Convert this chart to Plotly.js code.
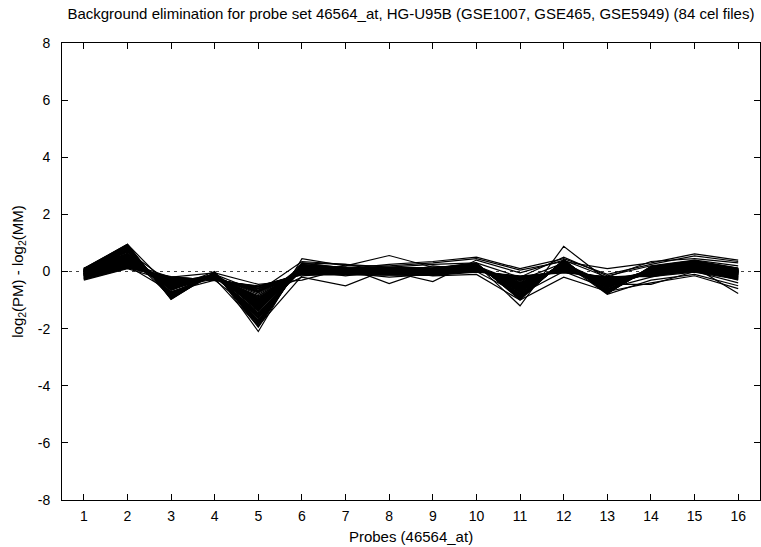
<!DOCTYPE html>
<html>
<head>
<meta charset="utf-8">
<script src="https://cdn.plot.ly/plotly-3.0.1.min.js"></script>
<style>
  html, body { margin: 0; padding: 0; background: #fff; }
  #chart { width: 761px; height: 547px; }
</style>
</head>
<body>
<div id="chart"></div>
<script>
// Probe indices within probe set 46564_at
const probes = [1, 2, 3, 4, 5, 6, 7, 8, 9, 10, 11, 12, 13, 14, 15, 16];

// Per-array profiles of log2(PM) - log2(MM), one row per cel file, one column per probe
const celProfiles = [
  [-0.05,0.48,-0.52,-0.14,-1.12,0.08,0.04,0.06,0.02,0.16,-0.58,0.22,-0.46,0.02,0.18,-0.04],
  [-0.10,0.42,-0.48,-0.18,-1.05,0.12,0.06,0.02,0.05,0.12,-0.52,0.18,-0.42,-0.03,0.22,0.02],
  [0.00,0.55,-0.60,-0.12,-1.25,0.05,0.00,0.08,0.00,0.20,-0.65,0.25,-0.52,0.05,0.15,-0.10],
  [-0.08,0.50,-0.45,-0.20,-1.18,0.15,0.08,0.10,0.08,0.18,-0.60,0.28,-0.40,0.00,0.25,0.05],
  [-0.12,0.38,-0.55,-0.16,-1.00,0.02,-0.02,0.00,-0.04,0.10,-0.48,0.15,-0.50,-0.05,0.12,-0.12],
  [0.02,0.60,-0.65,-0.10,-1.30,0.10,0.05,0.12,0.06,0.22,-0.70,0.30,-0.55,0.08,0.20,0.00],
  [-0.06,0.45,-0.50,-0.22,-1.15,0.18,0.10,0.04,0.10,0.14,-0.55,0.20,-0.44,0.04,0.28,0.08],
  [-0.15,0.35,-0.42,-0.15,-0.95,0.06,0.02,-0.04,0.00,0.08,-0.45,0.12,-0.38,-0.08,0.10,-0.15],
  [0.05,0.62,-0.58,-0.08,-1.35,0.12,0.08,0.14,0.12,0.24,-0.72,0.32,-0.58,0.10,0.30,0.10],
  [-0.04,0.52,-0.54,-0.18,-1.20,0.08,0.03,0.06,0.04,0.15,-0.62,0.24,-0.48,0.01,0.16,-0.06],
  [-0.09,0.44,-0.47,-0.13,-1.08,0.14,0.07,0.09,0.07,0.17,-0.57,0.21,-0.43,0.03,0.23,0.03],
  [-0.02,0.58,-0.62,-0.11,-1.28,0.04,-0.01,0.03,-0.02,0.13,-0.68,0.26,-0.53,-0.02,0.14,-0.08],
  [-0.11,0.40,-0.44,-0.19,-1.02,0.16,0.09,0.07,0.09,0.19,-0.50,0.17,-0.41,0.06,0.26,0.06],
  [0.01,0.54,-0.57,-0.09,-1.22,0.09,0.04,0.11,0.03,0.21,-0.64,0.29,-0.51,0.07,0.19,-0.02],
  [-0.07,0.47,-0.51,-0.17,-1.14,0.07,0.01,0.05,0.01,0.11,-0.59,0.19,-0.47,-0.01,0.17,-0.05],
  [-0.13,0.36,-0.40,-0.21,-0.98,0.11,0.06,0.01,0.06,0.09,-0.47,0.14,-0.39,-0.04,0.13,-0.09],
  [0.03,0.64,-0.66,-0.07,-1.38,0.13,0.09,0.13,0.11,0.25,-0.74,0.33,-0.57,0.09,0.27,0.07],
  [-0.05,0.49,-0.53,-0.15,-1.17,0.06,0.02,0.04,0.03,0.16,-0.61,0.23,-0.45,0.02,0.21,-0.01],
  [-0.08,0.43,-0.49,-0.14,-1.10,0.10,0.05,0.08,0.05,0.14,-0.56,0.20,-0.46,0.00,0.18,-0.03],
  [-0.03,0.51,-0.56,-0.16,-1.19,0.09,0.03,0.07,0.04,0.18,-0.63,0.25,-0.49,0.03,0.20,-0.04],
  [-0.10,0.46,-0.46,-0.12,-1.06,0.13,0.07,0.03,0.08,0.12,-0.54,0.18,-0.42,0.05,0.24,0.04],
  [0.00,0.57,-0.59,-0.18,-1.26,0.07,0.02,0.09,0.02,0.19,-0.66,0.27,-0.54,-0.03,0.15,-0.07],
  [-0.06,0.41,-0.52,-0.20,-1.13,0.15,0.08,0.05,0.07,0.15,-0.58,0.21,-0.44,0.04,0.22,0.01],
  [-0.12,0.39,-0.43,-0.13,-1.03,0.05,0.00,0.02,-0.01,0.10,-0.51,0.16,-0.40,-0.06,0.11,-0.11],
  [0.04,0.59,-0.63,-0.10,-1.32,0.11,0.06,0.12,0.09,0.23,-0.69,0.30,-0.56,0.08,0.25,0.06],
  [-0.07,0.50,-0.50,-0.17,-1.16,0.08,0.04,0.06,0.05,0.16,-0.60,0.22,-0.47,0.01,0.19,-0.02],
  [-0.04,0.53,-0.55,-0.11,-1.21,0.10,0.05,0.08,0.06,0.17,-0.62,0.24,-0.50,0.02,0.20,0.00],
  [-0.09,0.45,-0.48,-0.19,-1.09,0.12,0.06,0.04,0.04,0.13,-0.55,0.19,-0.43,-0.02,0.17,-0.06],
  [-0.01,0.56,-0.61,-0.14,-1.27,0.06,0.01,0.10,0.03,0.20,-0.67,0.28,-0.52,0.06,0.23,0.03],
  [-0.14,0.37,-0.41,-0.16,-0.97,0.14,0.09,0.00,0.08,0.11,-0.46,0.13,-0.37,-0.07,0.14,-0.13],
  [0.02,0.61,-0.64,-0.09,-1.34,0.09,0.04,0.11,0.07,0.22,-0.71,0.31,-0.55,0.07,0.26,0.05],
  [-0.06,0.48,-0.53,-0.15,-1.14,0.11,0.03,0.07,0.02,0.15,-0.59,0.23,-0.48,0.00,0.18,-0.03],
  [-0.08,0.44,-0.50,-0.18,-1.11,0.08,0.05,0.03,0.06,0.14,-0.57,0.20,-0.45,0.03,0.21,0.02],
  [-0.03,0.52,-0.57,-0.12,-1.23,0.12,0.07,0.09,0.05,0.18,-0.64,0.26,-0.50,0.04,0.16,-0.05],
  [-0.11,0.42,-0.45,-0.17,-1.04,0.07,0.02,0.01,0.01,0.12,-0.53,0.17,-0.41,-0.04,0.15,-0.08],
  [0.01,0.55,-0.60,-0.13,-1.29,0.10,0.06,0.10,0.08,0.21,-0.66,0.27,-0.53,0.06,0.24,0.04],
  [-0.05,0.47,-0.51,-0.16,-1.13,0.09,0.04,0.05,0.04,0.16,-0.58,0.22,-0.46,0.01,0.19,-0.01],
  [-0.09,0.43,-0.47,-0.14,-1.07,0.13,0.08,0.06,0.07,0.13,-0.56,0.19,-0.44,0.02,0.22,0.00],
  [-0.02,0.54,-0.58,-0.19,-1.24,0.06,0.01,0.08,0.03,0.19,-0.65,0.25,-0.51,-0.01,0.17,-0.06],
  [-0.07,0.49,-0.52,-0.15,-1.16,0.10,0.05,0.04,0.05,0.15,-0.60,0.21,-0.47,0.02,0.20,-0.02],
  [0.05,0.85,-0.88,-0.10,-1.70,0.20,0.08,0.10,0.05,0.25,-0.90,0.35,-0.70,0.12,0.30,0.05],
  [0.08,0.92,-0.95,-0.05,-1.85,0.25,0.10,0.12,0.10,0.28,-0.95,0.40,-0.75,0.15,0.35,0.10],
  [0.02,0.78,-0.82,-0.12,-1.60,0.15,0.05,0.08,0.02,0.22,-0.85,0.32,-0.68,0.10,0.28,0.00],
  [0.10,0.95,-0.98,-0.02,-1.95,0.30,0.12,0.15,0.12,0.30,-1.00,0.42,-0.78,0.18,0.38,0.12],
  [0.04,0.82,-0.86,-0.08,-1.65,0.18,0.06,0.09,0.06,0.24,-0.88,0.36,-0.72,0.11,0.32,0.04],
  [0.06,0.88,-0.90,-0.06,-1.78,0.22,0.09,0.11,0.08,0.26,-0.92,0.38,-0.74,0.14,0.33,0.08],
  [0.00,0.75,-0.78,-0.14,-1.55,0.12,0.04,0.06,0.00,0.20,-0.82,0.30,-0.66,0.08,0.26,-0.02],
  [0.07,0.90,-0.93,-0.04,-1.82,0.24,0.11,0.13,0.09,0.27,-0.96,0.39,-0.76,0.16,0.36,0.09],
  [0.03,0.80,-0.84,-0.11,-1.62,0.16,0.07,0.07,0.04,0.23,-0.86,0.34,-0.69,0.09,0.29,0.02],
  [0.09,0.93,-0.96,-0.03,-1.90,0.28,0.13,0.14,0.11,0.29,-0.98,0.41,-0.77,0.17,0.37,0.11],
  [0.01,0.72,-0.76,-0.13,-1.50,0.14,0.03,0.05,0.01,0.21,-0.80,0.31,-0.64,0.07,0.27,-0.01],
  [0.05,0.86,-0.89,-0.07,-1.74,0.21,0.08,0.10,0.07,0.25,-0.91,0.37,-0.71,0.13,0.31,0.06],
  [-0.02,0.70,-0.74,-0.15,-1.48,0.11,0.02,0.04,-0.01,0.19,-0.78,0.29,-0.63,0.06,0.25,-0.03],
  [0.06,0.84,-0.87,-0.09,-1.72,0.19,0.07,0.11,0.06,0.24,-0.89,0.36,-0.73,0.12,0.34,0.07],
  [0.03,0.76,-0.80,-0.11,-1.58,0.17,0.05,0.08,0.03,0.22,-0.84,0.33,-0.67,0.10,0.28,0.01],
  [0.08,0.89,-0.92,-0.05,-1.80,0.23,0.10,0.12,0.09,0.27,-0.94,0.39,-0.75,0.15,0.35,0.09],
  [0.02,0.68,-0.72,-0.12,-1.45,0.13,0.04,0.06,0.02,0.20,-0.77,0.30,-0.62,0.08,0.26,0.00],
  [0.04,0.74,-0.79,-0.10,-1.52,0.15,0.06,0.07,0.05,0.21,-0.81,0.32,-0.65,0.09,0.29,0.03],
  [-0.20,0.20,-0.25,-0.25,-0.60,-0.05,-0.05,-0.08,-0.08,0.05,-0.25,0.05,-0.25,-0.10,0.05,-0.20],
  [-0.25,0.15,-0.22,-0.28,-0.55,-0.10,-0.08,-0.12,-0.10,0.02,-0.20,0.00,-0.22,-0.15,0.02,-0.25],
  [-0.18,0.25,-0.30,-0.22,-0.70,0.00,-0.02,-0.05,-0.05,0.06,-0.30,0.08,-0.28,-0.08,0.08,-0.18],
  [-0.22,0.18,-0.20,-0.30,-0.52,-0.08,-0.10,-0.10,-0.12,0.00,-0.18,-0.02,-0.20,-0.12,0.00,-0.22],
  [-0.15,0.28,-0.35,-0.20,-0.75,0.02,0.00,-0.02,-0.03,0.08,-0.35,0.10,-0.30,-0.06,0.10,-0.15],
  [-0.28,0.12,-0.18,-0.32,-0.50,-0.12,-0.12,-0.14,-0.14,-0.02,-0.15,-0.05,-0.18,-0.18,-0.02,-0.28],
  [-0.17,0.22,-0.28,-0.24,-0.65,-0.03,-0.04,-0.06,-0.06,0.04,-0.28,0.06,-0.26,-0.09,0.06,-0.19],
  [-0.19,0.30,-0.32,-0.18,-0.80,0.04,0.02,0.00,-0.02,0.10,-0.38,0.12,-0.32,-0.05,0.12,-0.12],
  [-0.23,0.16,-0.24,-0.27,-0.58,-0.07,-0.07,-0.09,-0.09,0.03,-0.22,0.02,-0.24,-0.13,0.03,-0.23],
  [-0.14,0.32,-0.36,-0.19,-0.85,0.05,0.03,0.02,0.00,0.11,-0.40,0.14,-0.33,-0.04,0.13,-0.10],
  [-0.21,0.21,-0.27,-0.26,-0.62,-0.04,-0.06,-0.07,-0.07,0.05,-0.26,0.04,-0.25,-0.11,0.05,-0.21],
  [-0.16,0.26,-0.33,-0.21,-0.72,0.01,-0.01,-0.04,-0.04,0.07,-0.32,0.09,-0.29,-0.07,0.09,-0.16],
  [-0.26,0.14,-0.21,-0.29,-0.54,-0.09,-0.09,-0.11,-0.11,0.01,-0.19,0.01,-0.21,-0.14,0.01,-0.26],
  [-0.13,0.34,-0.38,-0.17,-0.88,0.06,0.04,0.03,0.01,0.12,-0.42,0.15,-0.35,-0.03,0.14,-0.08],
  [-0.20,0.24,-0.29,-0.23,-0.68,-0.02,-0.03,-0.05,-0.05,0.06,-0.29,0.07,-0.27,-0.08,0.07,-0.17],
  [-0.12,0.36,-0.40,-0.16,-0.92,0.07,0.05,0.04,0.02,0.13,-0.45,0.16,-0.36,-0.02,0.15,-0.07],
  [-0.30,0.10,-0.35,-0.20,-0.90,-0.20,-0.50,0.10,0.05,0.10,-0.60,0.20,-0.45,-0.45,0.00,-0.40],
  [-0.05,0.50,-0.55,-0.15,-1.20,0.00,0.20,0.56,0.15,0.20,-0.40,0.10,-0.50,0.10,0.25,0.00],
  [-0.10,0.40,-0.50,-0.10,-1.00,0.20,0.15,-0.42,0.10,0.25,-1.20,0.88,-0.30,0.00,0.15,-0.77],
  [0.10,0.95,-0.60,0.00,-2.10,0.45,0.20,0.20,0.30,0.45,0.05,0.35,0.10,0.30,0.62,0.40],
  [0.00,0.30,-0.20,-0.05,-0.45,-0.30,0.10,0.25,0.35,0.50,0.10,0.45,-0.10,0.25,0.55,0.35],
  [-0.08,0.45,-0.45,-0.20,-1.40,0.30,0.25,0.00,-0.35,0.40,-0.05,0.40,-0.20,0.35,0.45,0.30],
  [0.12,0.60,-0.90,-0.05,-1.60,0.10,0.00,-0.10,0.20,0.05,-0.30,0.30,-0.80,-0.30,-0.10,-0.50],
  [-0.25,0.20,-0.70,-0.30,-1.50,0.05,-0.15,0.05,-0.15,-0.10,-1.00,-0.20,-0.70,-0.40,-0.15,-0.60],
  [0.05,0.70,-0.40,-0.10,-0.70,0.35,0.25,0.15,0.25,0.30,-0.20,0.50,-0.15,0.20,0.40,0.20],
  [-0.15,0.35,-0.60,-0.25,-1.90,-0.15,-0.05,-0.20,-0.10,0.00,-0.80,0.00,-0.60,-0.20,0.10,-0.30]
];

const yTicks = [-8, -6, -4, -2, 0, 2, 4, 6, 8];

const family = '"Liberation Sans", Arial, sans-serif';
const tickFont = { family: family, size: 14, color: '#000' };
const titleFont = { family: family, size: 15, color: '#000' };

const traces = celProfiles.map(row => ({
  type: 'scatter',
  mode: 'lines',
  x: probes,
  y: row,
  line: { color: '#000', width: 1.2 },
  showlegend: false,
  hoverinfo: 'skip'
}));

const axisCommon = {
  showline: true,
  linecolor: '#000',
  linewidth: 1,
  mirror: 'ticks',
  ticks: 'inside',
  ticklen: 6,
  tickcolor: '#000',
  tickwidth: 1,
  showgrid: false,
  zeroline: false,
  tickfont: tickFont
};

const layout = {
  width: 761,
  height: 547,
  margin: { l: 62, r: 1, t: 43, b: 47 },
  paper_bgcolor: '#fff',
  plot_bgcolor: '#fff',
  font: tickFont,
  title: {
    text: 'Background elimination for probe set 46564_at, HG-U95B (GSE1007, GSE465, GSE5949) (84 cel files)',
    font: titleFont,
    x: 0.54, xanchor: 'center',
    y: 1 - 14 / 547, yref: 'container', yanchor: 'middle'
  },
  xaxis: Object.assign({}, axisCommon, {
    range: [0.5, 16.5],
    tickmode: 'array',
    tickvals: probes,
    ticktext: probes.map(String),
    ticklabelstandoff: 3,
    title: { text: 'Probes (46564_at)', font: titleFont, standoff: 8 }
  }),
  yaxis: Object.assign({}, axisCommon, {
    range: [-8, 8],
    tickmode: 'array',
    tickvals: yTicks,
    ticktext: yTicks.map(String),
    ticklabelstandoff: 8,
    title: { text: 'log<sub>2</sub>(PM) - log<sub>2</sub>(MM)', font: titleFont, standoff: 10 }
  }),
  shapes: [{
    type: 'line', xref: 'x', yref: 'y',
    x0: 0.5, x1: 16.5, y0: 0, y1: 0,
    line: { color: '#444', width: 1, dash: '3px,4px' },
    layer: 'below'
  }]
};

Plotly.newPlot('chart', traces, layout, { displayModeBar: false, staticPlot: true });
</script>
</body>
</html>
